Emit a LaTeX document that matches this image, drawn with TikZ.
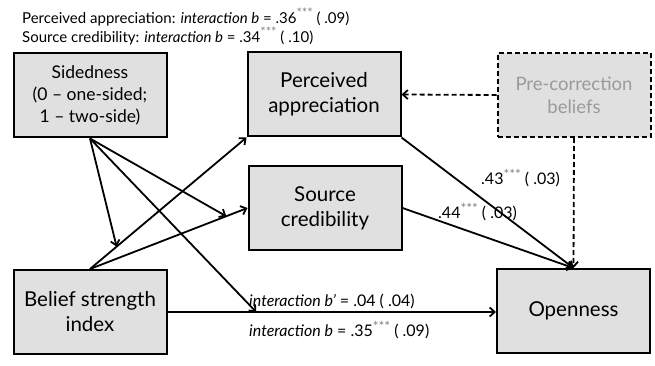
\documentclass[tikz,border=0pt]{standalone}
\usepackage{fontspec}
\setmainfont{Lato}
\usetikzlibrary{calc,arrows.meta}
\definecolor{boxgray}{HTML}{E0E0E0}
\definecolor{startxt}{HTML}{9A9A9A}
\definecolor{starclr}{HTML}{808080}
\newcommand{\stars}{\raisebox{0.35em}{\color{starclr}\scalebox{0.85}{***}}}

\begin{document}
\begin{tikzpicture}
    [%%%%%%%%%%%%%%%%%%%%%%%%%%%%%%
        x=1pt,y=-1pt,
        var/.style={rectangle,draw=black,line width=2pt,fill=boxgray,align=center,inner sep=0pt,minimum width=153pt,minimum height=84pt,font=\fontsize{20.5}{25}\selectfont},
        hidden/.style={var,dash pattern=on 5pt off 3pt,text=startxt,font=\fontsize{18.5}{23}\selectfont},
        path/.style={-{Straight Barb[length=5pt,width=9pt]},line width=1.8pt},
        coef/.style={font=\fontsize{15}{18}\selectfont,inner sep=0pt},
    ]%%%%%%%%%%%%%%%%%%%%%%%%%%%%%%

\useasboundingbox (0,0) rectangle (655,366);

% boxes
\node[var,font=\fontsize{17.5}{22}\selectfont] (side) at (90,95.5) {Sidedness\\(0 -- one-sided;\\1 -- two-side)};
\node[var] (appr) at (324,94.5) {Perceived\\appreciation};
\node[var] (cred) at (325,208) {Source\\credibility};
\node[hidden] (pre) at (574,95) {Pre-correction\\beliefs};
\node[var] (belief) at (90,312) {Belief strength\\index};
\node[var] (open) at (573.5,311) {Openness};

% paths
\draw[path] (belief.north) -- (appr.south west);
\draw[path] (belief.north) -- (cred.west);
\draw[path] (belief.east) -- (belief.east -| open.west);
\draw[path] (appr.south east) -- (open.north);
\draw[path] (cred.east) -- (open.north);
\draw[path,dash pattern=on 5pt off 3pt] (pre.west) -- (appr.east);
\draw[path,dash pattern=on 5pt off 3pt] (pre.south) -- (open.north);

% moderation
\coordinate (modA) at ($(belief.north)!0.17!(appr.south west)$);
\coordinate (modB) at ($(belief.north)!0.865!(cred.west)$);
\coordinate (modC) at ($(belief.east)!0.27!(belief.east -| open.west)$);
\draw[path] (side.south) -- (modA);
\draw[path] (side.south) -- (modB);
\draw[path] (side.south) -- (modC);

% coefficients
\node[coef,anchor=west] (topA) at (22,17) {Perceived appreciation: \textit{interaction b} = .36\stars{} ( .09)};
\node[coef,anchor=west] (topB) at (22,36) {Source credibility: \textit{interaction b} = .34\stars{} ( .10)};
\node[coef,anchor=west,font=\fontsize{16}{19}\selectfont] (lblA) at (481,178) {.43\stars{} ( .03)};
\node[coef,anchor=west,font=\fontsize{16}{19}\selectfont] (lblB) at (438,212) {.44\stars{} ( .03)};
\node[coef,anchor=west,font=\fontsize{16}{19}\selectfont] (lblC) at (249,301) {\textit{interaction b’} = .04 ( .04)};
\node[coef,anchor=west,font=\fontsize{16}{19}\selectfont] (lblD) at (249,330) {\textit{interaction b} = .35\stars{} ( .09)};
\end{tikzpicture}
\end{document}
